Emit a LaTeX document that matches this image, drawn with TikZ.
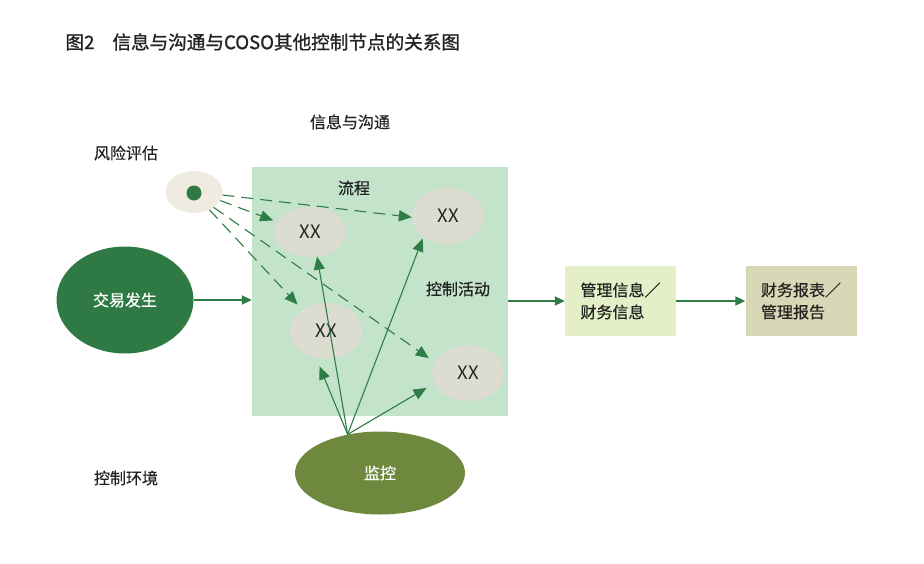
\documentclass[tikz,border=0pt]{standalone}
\usepackage{fontspec}
\setmainfont{Noto Sans CJK SC}
\newfontfamily\medfont[FakeBold=0.5]{Noto Sans CJK SC}
\newfontfamily\headfont[FakeBold=1.1]{Noto Sans CJK SC}
\usetikzlibrary{shapes.geometric}
\usetikzlibrary{arrows.meta}

\definecolor{infogreen}{RGB}{195,227,203}
\definecolor{riskbeige}{RGB}{239,235,225}
\definecolor{xxgray}{RGB}{220,221,208}
\definecolor{darkgreen}{RGB}{47,122,68}
\definecolor{arrgreen}{RGB}{46,125,70}
\definecolor{olive}{RGB}{110,137,62}
\definecolor{mgmtgreen}{RGB}{228,239,200}
\definecolor{reptan}{RGB}{216,216,182}
\definecolor{txtgray}{RGB}{35,35,35}

\begin{document}
\begin{tikzpicture}[x=1pt,y=-1pt,
  lbl/.style={font=\medfont\fontsize{16}{22}\selectfont,text=txtgray},
  xxnode/.style={ellipse,fill=xxgray,minimum width=72pt,minimum height=56pt,inner sep=0pt,font=\fontsize{18.5}{18.5}\selectfont,text=txtgray},
  dasharrow/.style={draw=arrgreen,line width=1.1pt,dash pattern=on 12pt off 7pt,-{Triangle[length=13pt,width=11pt]}},
  monarrow/.style={draw=arrgreen,line width=1.1pt,-{Triangle[length=13pt,width=11pt]}},
  flowarrow/.style={draw=arrgreen,line width=2pt,-{Triangle[length=10pt,width=9pt]}},
  outbox/.style={rectangle,minimum width=111pt,minimum height=70pt,inner sep=0pt,align=left,font=\medfont\fontsize{16}{22}\selectfont,text=txtgray}
]
\useasboundingbox[fill=white] (0,0) rectangle (924,563);

% title
\node[anchor=west,font=\headfont\fontsize{18.6}{18.6}\selectfont,text=txtgray] (title) at (62,42) {图2\hspace{18pt}信息与沟通与COSO其他控制节点的关系图};

% information and communication
\node[rectangle,fill=infogreen,minimum width=256pt,minimum height=249pt,inner sep=0pt] (info) at (380,291.5) {};
\node[lbl] (infolbl) at (350,122) {信息与沟通};
\node[lbl] (flowlbl) at (354,188) {流程};
\node[lbl] (actlbl) at (458,289) {控制活动};

\node[xxnode,minimum height=50pt] (xx1) at (310,232) {XX};
\node[xxnode] (xx2) at (448,216) {XX};
\node[xxnode] (xx3) at (326,331) {XX};
\node[xxnode] (xx4) at (468,373) {XX};

% risk assessment
\node[lbl] (risklbl) at (126,153) {风险评估};
\node[ellipse,fill=riskbeige,minimum width=57pt,minimum height=42pt,inner sep=0pt] (risk) at (194,192) {};
\node[circle,fill=darkgreen,minimum size=15pt,inner sep=0pt] (riskdot) at (194,193) {};

\draw[dasharrow] (risk.354) -- (xx2.182);
\draw[dasharrow,shorten >=4pt] (risk.342) -- (xx1.163);
\draw[dasharrow,shorten >=7pt] (risk.311) -- (xx3.138);
\draw[dasharrow,shorten >=7pt] (risk.322) -- (xx4.162);

% transaction
\node[ellipse,fill=darkgreen,minimum width=137pt,minimum height=107pt,inner sep=0pt,font=\medfont\fontsize{16}{16}\selectfont,text=white] (deal) at (125,300) {交易发生};
\draw[flowarrow] (deal.east) -- (deal.east -| info.west);

% outputs
\node[outbox,fill=mgmtgreen] (mgmt) at (620.5,301) {管理信息／\\财务信息};
\node[outbox,fill=reptan] (report) at (801,301) {财务报表／\\管理报告};
\draw[flowarrow] (info.east |- mgmt.west) -- (mgmt.west);
\draw[flowarrow] (mgmt.east) -- (report.west);

% monitoring
\node[ellipse,fill=olive,minimum width=170pt,minimum height=83pt,inner sep=0pt,font=\medfont\fontsize{16}{16}\selectfont,text=white] (mon) at (380,473) {监控};
\draw[monarrow] (mon.130) -- (xx1.286);
\draw[monarrow,shorten >=2pt] (mon.130) -- (xx2.220);
\draw[monarrow,shorten >=9pt] (mon.130) -- (xx3.250);
\draw[monarrow,shorten >=9pt] (mon.130) -- (xx4.197);

% control environment
\node[lbl] (envlbl) at (126,478) {控制环境};

\end{tikzpicture}
\end{document}
